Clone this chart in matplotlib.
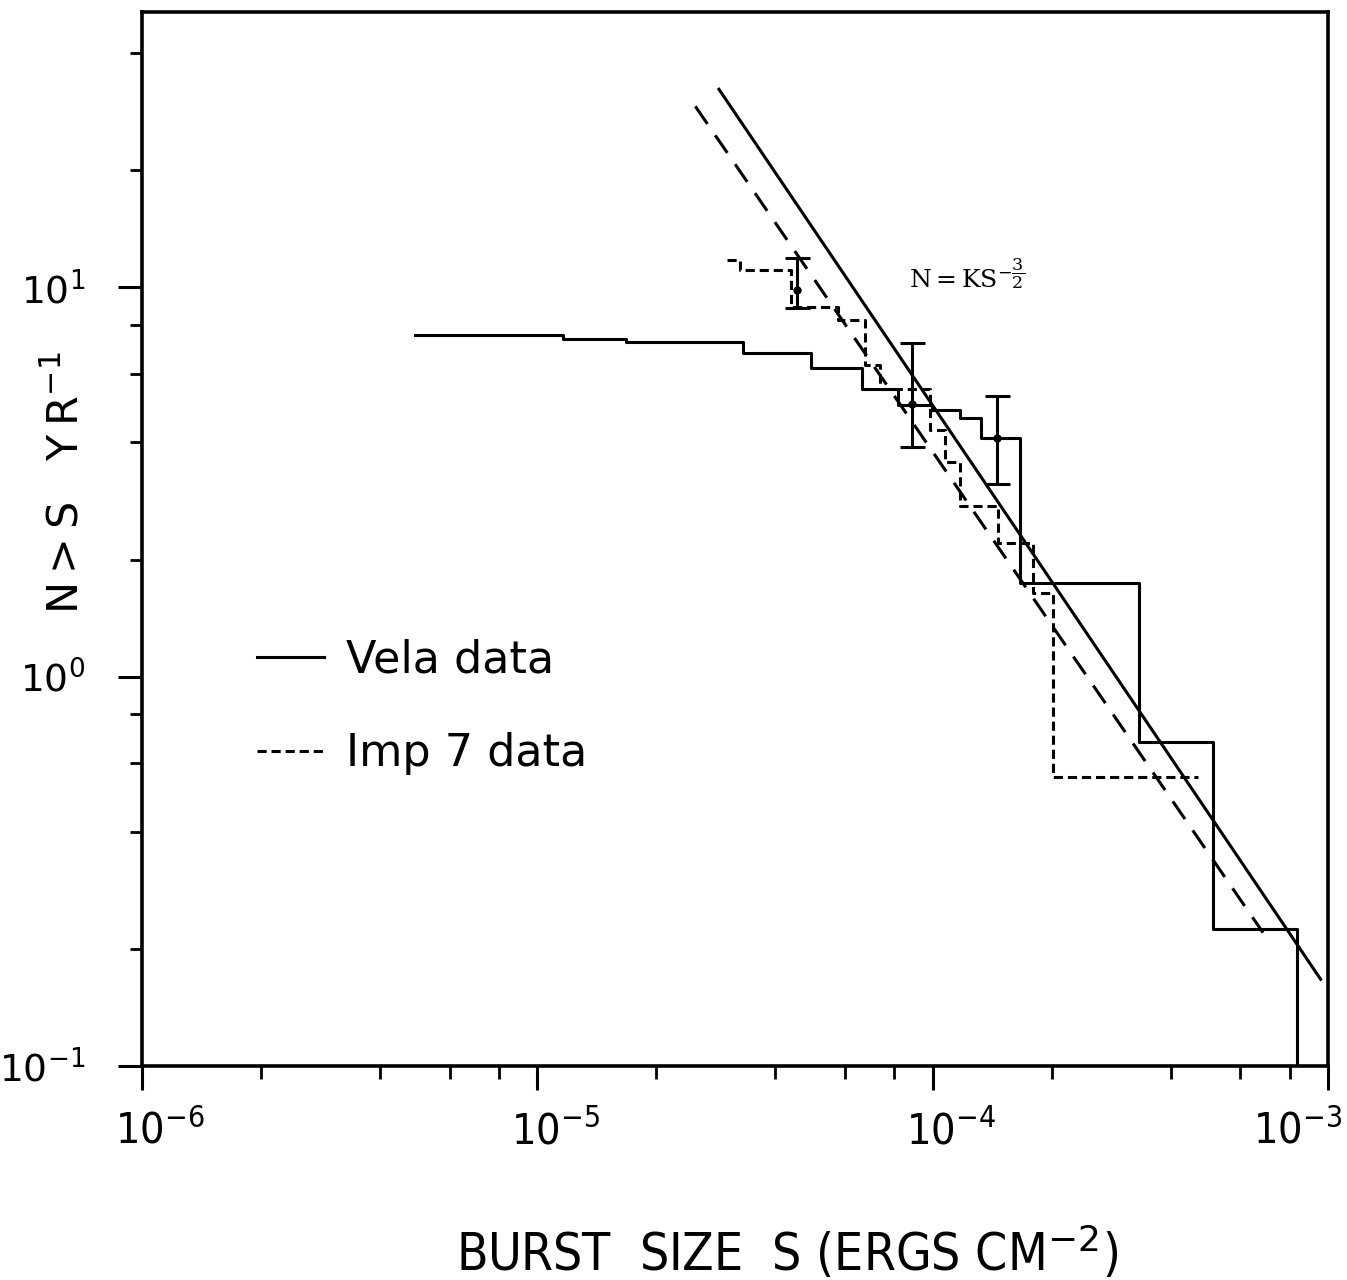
import numpy as np
import matplotlib
matplotlib.use("Agg")
import matplotlib.pyplot as plt
import matplotlib.transforms as mtransforms
from matplotlib.ticker import LogLocator, NullFormatter, FixedLocator, FixedFormatter

# Vela data: cumulative N(>S) as steps (left edge of each step, level)
vela_s = [4.91e-6, 1.16e-5, 1.68e-5, 3.32e-5, 4.93e-5, 6.64e-5, 8.18e-5,
          9.98e-5, 1.175e-4, 1.327e-4, 1.665e-4, 3.33e-4, 5.12e-4, 8.37e-4]
vela_n = [7.56, 7.38, 7.23, 6.77, 6.20, 5.47, 5.00,
          4.83, 4.63, 4.11, 1.74, 0.678, 0.225, 0.1]

# Imp 7 data
imp7_s = [3.02e-5, 3.26e-5, 4.37e-5, 5.77e-5, 6.76e-5, 7.37e-5, 9.86e-5,
          1.076e-4, 1.175e-4, 1.465e-4, 1.793e-4, 2.017e-4, 4.69e-4]
imp7_n = [11.75, 11.08, 8.89, 8.27, 6.34, 5.50, 4.31,
          3.57, 2.74, 2.20, 1.64, 0.551, 0.551]

# error bars
err_s = [4.54e-5, 8.89e-5, 1.454e-4]
err_n = [9.88, 5.03, 4.11]
err_lo = [8.87, 3.89, 3.12]
err_hi = [11.9, 7.21, 5.27]

# N = K S^-3/2 lines (end points)
vela_fit_s = [2.88e-5, 9.58e-4]
vela_fit_n = [32.3, 0.167]
imp7_fit_s = [2.51e-5, 6.85e-4]
imp7_fit_n = [29.2, 0.22]

x_ticks = [1e-6, 1e-5, 1e-4, 1e-3]
x_labels = [r"$\mathdefault{10^{-6}}$", r"$\mathdefault{10^{-5}}$",
            r"$\mathdefault{10^{-4}}$", r"$\mathdefault{10^{-3}}$"]
y_ticks = [0.1, 1, 10]
y_labels = [r"$\mathdefault{10^{-1}}$", r"$\mathdefault{10^{0}}$", r"$\mathdefault{10^{1}}$"]

fig = plt.figure(figsize=(13.47, 12.8), dpi=100)
ax = fig.add_axes([0.1054, 0.1672, 0.8805, 0.8234])
ax.set_xscale("log")
ax.set_yscale("log")

lw = 2.2
ax.step(vela_s, vela_n, where="post", color="black", lw=lw, label="Vela data")
ax.step(imp7_s, imp7_n, where="post", color="black", lw=lw,
        dashes=(3, 1.6), label="Imp 7 data")
ax.plot(vela_fit_s, vela_fit_n, color="black", lw=lw)
ax.plot(imp7_fit_s, imp7_fit_n, color="black", lw=lw, dashes=(7, 4.5))

err = [np.array(err_n) - np.array(err_lo), np.array(err_hi) - np.array(err_n)]
ax.errorbar(err_s, err_n, yerr=err, fmt="o", color="black", ms=5,
            elinewidth=lw, capsize=9, capthick=lw, zorder=5)

ax.text(8.7e-5, 10.0, r"$\mathrm{N=KS}^{-\dfrac{3}{2}}$", fontsize=18,
        math_fontfamily="dejavuserif", ha="left", va="baseline")

ax.set_xlim(1e-6, 1e-3)
ax.set_ylim(0.1, 51)

ax.xaxis.set_major_locator(FixedLocator(x_ticks))
ax.xaxis.set_major_formatter(FixedFormatter(x_labels))
ax.yaxis.set_major_locator(FixedLocator(y_ticks))
ax.yaxis.set_major_formatter(FixedFormatter(y_labels))
ax.xaxis.set_minor_locator(LogLocator(base=10, subs=(2, 4, 6, 8)))
ax.yaxis.set_minor_locator(LogLocator(base=10, subs=(2, 4, 6, 8)))
ax.xaxis.set_minor_formatter(NullFormatter())
ax.yaxis.set_minor_formatter(NullFormatter())

ax.tick_params(which="major", direction="out", length=17, width=2.2)
ax.tick_params(which="minor", direction="out", length=9, width=2.0)
ax.tick_params(axis="x", which="major", pad=15, labelsize=31)
ax.tick_params(axis="y", which="major", pad=24, labelsize=27)

# shift x tick labels a bit right as in the original; last one kept inside
xlbls = ax.get_xticklabels()
for i, lbl in enumerate(xlbls):
    lbl.set_fontstretch("condensed")
    if i < len(xlbls) - 1:
        lbl.set_transform(lbl.get_transform() +
                          mtransforms.ScaledTranslation(18 / 100, 0, fig.dpi_scale_trans))
    else:
        lbl.set_horizontalalignment("right")
        lbl.set_transform(lbl.get_transform() +
                          mtransforms.ScaledTranslation(14 / 100, 0, fig.dpi_scale_trans))

for sp in ax.spines.values():
    sp.set_linewidth(2.6)

ax.set_xlabel(r"BURST  SIZE  S (ERGS CM$^{-2}$)", fontsize=37, fontstretch="condensed")
ax.xaxis.set_label_coords(0.544, -0.150)
ax.set_ylabel("N\u2009>\u2009S   Y\u2009R$^{-1}$", fontsize=31)
ax.yaxis.set_label_coords(-0.046, 0.553)

ax.legend(loc="upper left", bbox_to_anchor=(0.097, 0.406), frameon=False,
          fontsize=32, handlelength=1.5, handletextpad=0.5,
          labelspacing=1.15, borderpad=0, borderaxespad=0)

fig.savefig("out.png", dpi=100)
